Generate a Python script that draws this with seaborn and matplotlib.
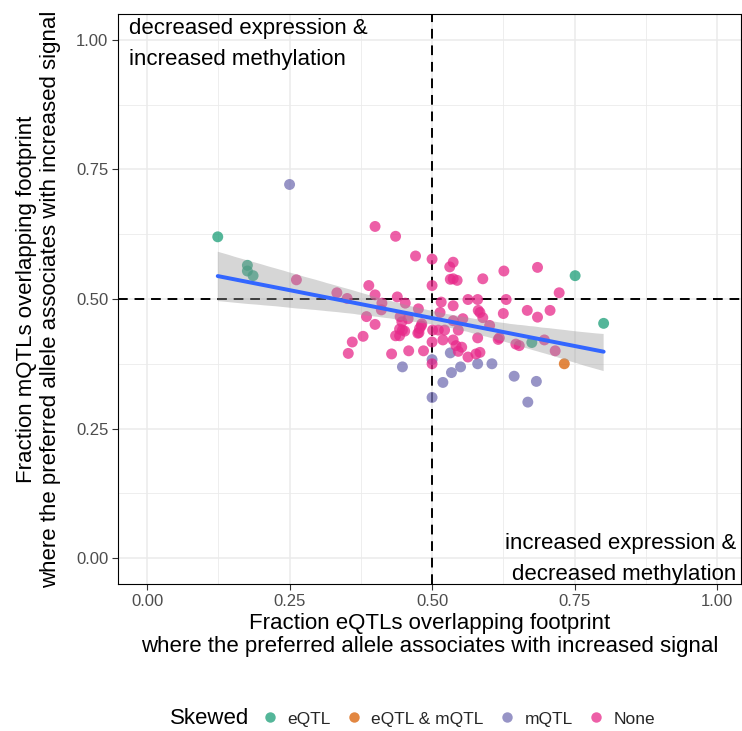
import numpy as np
import pandas as pd
import matplotlib
matplotlib.use("Agg")
import matplotlib.pyplot as plt
from matplotlib.lines import Line2D
import seaborn as sns

# Fractions per footprint, grouped by which QTL type shows skew
eqtl_x = [0.124, 0.176, 0.176, 0.186, 0.751, 0.801, 0.675]
eqtl_y = [0.620, 0.565, 0.554, 0.545, 0.545, 0.453, 0.416]

both_x = [0.732]
both_y = [0.375]

mqtl_x = [0.250, 0.500, 0.448, 0.532, 0.580, 0.605, 0.550, 0.534, 0.519,
          0.500, 0.644, 0.683, 0.668]
mqtl_y = [0.721, 0.383, 0.369, 0.396, 0.375, 0.375, 0.369, 0.358, 0.339,
          0.310, 0.351, 0.341, 0.301]

none_x = [0.262, 0.400, 0.436, 0.471, 0.500, 0.537, 0.531, 0.626, 0.685,
          0.589, 0.532, 0.537, 0.544, 0.389, 0.500, 0.723, 0.400, 0.333,
          0.439, 0.351, 0.563, 0.580, 0.630, 0.516, 0.453, 0.412, 0.537,
          0.476, 0.581, 0.584, 0.411, 0.625, 0.667, 0.685, 0.707, 0.385,
          0.444, 0.458, 0.514, 0.589, 0.554, 0.400, 0.447, 0.448, 0.481,
          0.478, 0.501, 0.522, 0.511, 0.537, 0.546, 0.601, 0.379, 0.436,
          0.443, 0.475, 0.360, 0.500, 0.519, 0.537, 0.580, 0.616, 0.542,
          0.552, 0.546, 0.353, 0.429, 0.459, 0.485, 0.563, 0.577, 0.584,
          0.500, 0.647, 0.653, 0.697, 0.716, 0.618, 0.443, 0.452, 0.477,
          0.482]
none_y = [0.537, 0.640, 0.621, 0.583, 0.577, 0.571, 0.562, 0.554, 0.561,
          0.539, 0.538, 0.539, 0.536, 0.526, 0.526, 0.512, 0.508, 0.512,
          0.504, 0.501, 0.499, 0.499, 0.499, 0.494, 0.492, 0.492, 0.487,
          0.481, 0.478, 0.474, 0.479, 0.472, 0.478, 0.465, 0.478, 0.466,
          0.466, 0.462, 0.474, 0.464, 0.462, 0.451, 0.456, 0.440, 0.448,
          0.443, 0.440, 0.440, 0.440, 0.458, 0.440, 0.449, 0.428, 0.429,
          0.429, 0.434, 0.417, 0.417, 0.421, 0.421, 0.425, 0.422, 0.410,
          0.407, 0.399, 0.395, 0.394, 0.400, 0.400, 0.388, 0.394, 0.397,
          0.375, 0.413, 0.410, 0.421, 0.400, 0.425, 0.442, 0.438, 0.435,
          0.452]

groups = ["eQTL", "eQTL & mQTL", "mQTL", "None"]
group_colors = ["#1B9E77", "#D95F02", "#7570B3", "#E7298A"]

tick_vals = [0.00, 0.25, 0.50, 0.75, 1.00]
tick_labels = ["0.00", "0.25", "0.50", "0.75", "1.00"]

df = pd.concat([
    pd.DataFrame({"x": eqtl_x, "y": eqtl_y, "Skewed": "eQTL"}),
    pd.DataFrame({"x": both_x, "y": both_y, "Skewed": "eQTL & mQTL"}),
    pd.DataFrame({"x": mqtl_x, "y": mqtl_y, "Skewed": "mQTL"}),
    pd.DataFrame({"x": none_x, "y": none_y, "Skewed": "None"}),
], ignore_index=True)

sns.set_theme(style="white")
plt.rcParams["font.family"] = ["Liberation Sans", "DejaVu Sans"]

W, H = 742, 731
fig = plt.figure(figsize=(W / 100, H / 100), dpi=100)
ax = fig.add_axes([118 / W, 1 - 584 / H, (741 - 118) / W, (584 - 14) / H])

# grid (major + minor) like a bw theme
minor = [-0.125, 0.125, 0.375, 0.625, 0.875, 1.125]
ax.set_xticks(minor, minor=True)
ax.set_yticks(minor, minor=True)
ax.set_xticks(tick_vals)
ax.set_yticks(tick_vals)
ax.set_xticklabels(tick_labels)
ax.set_yticklabels(tick_labels)
ax.grid(which="major", color="#EBEBEB", lw=1.1, zorder=0)
ax.grid(which="minor", color="#EBEBEB", lw=0.6, zorder=0)
ax.set_axisbelow(True)

# reference lines at 0.5
ax.axvline(0.5, color="black", lw=1.4, ls=(0, (5, 3.5)), zorder=1)
ax.axhline(0.5, color="black", lw=1.4, ls=(0, (5, 3.5)), zorder=1)

palette = dict(zip(groups, group_colors))
sns.scatterplot(data=df, x="x", y="y", hue="Skewed", hue_order=groups,
                palette=palette, s=62, alpha=0.75, edgecolor="none",
                legend=False, ax=ax, zorder=2)

# linear fit with 95% confidence band
n_before = len(ax.collections)
sns.regplot(data=df, x="x", y="y", scatter=False, ci=95, color="#3366FF",
            line_kws={"lw": 2.85, "zorder": 4}, ax=ax, truncate=True)
for coll in ax.collections[n_before:]:
    coll.set_facecolor("#999999")
    coll.set_alpha(0.4)
    coll.set_edgecolor("none")
    coll.set_zorder(3)

ax.set_xlim(-0.051, 1.042)
ax.set_ylim(-0.05, 1.05)

for s in ax.spines.values():
    s.set_color("black")
    s.set_linewidth(0.8)

ax.tick_params(which="major", axis="both", direction="out", length=4,
               width=0.8, color="#333333", labelcolor="#4D4D4D",
               labelsize=12, bottom=True, left=True, pad=3)
ax.tick_params(which="minor", length=0)

ax.set_xlabel("Fraction eQTLs overlapping footprint\n"
              "where the preferred allele associates with increased signal",
              fontsize=16, color="black", labelpad=3, linespacing=1.15)
ax.set_ylabel("Fraction mQTLs overlapping footprint\n"
              "where the preferred allele associates with increased signal",
              fontsize=16, color="black", labelpad=11, linespacing=1.15)

ax.text(0.0177, 0.993, "decreased expression &\nincreased methylation",
        transform=ax.transAxes, ha="left", va="top", fontsize=16,
        color="black", linespacing=1.65)
ax.text(0.992, -0.002, "increased expression &\ndecreased methylation",
        transform=ax.transAxes, ha="right", va="bottom", fontsize=16,
        color="black", multialignment="right", linespacing=1.65)

# legend along the bottom, title to the left of the keys
fig.text(170 / W, 1 - 719 / H, "Skewed", ha="left", va="center",
         fontsize=16, color="black")
handles = [Line2D([], [], ls="none", marker="o", markersize=7.5,
                  markerfacecolor=c, markeredgecolor="none", alpha=0.75)
           for c in group_colors]
fig.legend(handles, groups, loc="center left",
           bbox_to_anchor=(261 / W, 1 - 719 / H), ncol=4, frameon=False,
           fontsize=12.5, handlelength=1.0, handletextpad=0.5,
           columnspacing=0.85, borderpad=0, borderaxespad=0)

fig.savefig("out.png", dpi=100)
